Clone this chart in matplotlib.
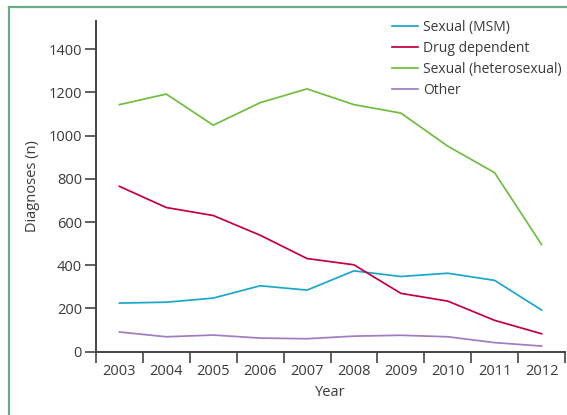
import matplotlib
matplotlib.use("Agg")
import matplotlib.pyplot as plt
from matplotlib.lines import Line2D
from matplotlib.ticker import FixedLocator, NullFormatter

years = [2003, 2004, 2005, 2006, 2007, 2008, 2009, 2010, 2011, 2012]
msm = [225, 229, 248, 305, 285, 374, 348, 363, 330, 193]
drug = [765, 667, 630, 539, 431, 402, 270, 234, 145, 83]
hetero = [1143, 1192, 1048, 1152, 1216, 1143, 1104, 951, 828, 496]
other = [91, 69, 77, 63, 60, 72, 76, 69, 42, 26]

series_names = ["Sexual (MSM)", "Drug dependent", "Sexual (heterosexual)", "Other"]
colors = ["#1ba6cc", "#c4003f", "#6fbe3e", "#a07cc4"]
yticks = [0, 200, 400, 600, 800, 1000, 1200, 1400]

plt.rcParams['font.family'] = ['Open Sans', 'DejaVu Sans']
txt = "#3a3a3a"
fs = 10.5
W, H = 567, 415
fig = plt.figure(figsize=(W/100, H/100), dpi=100)
ax = fig.add_axes([96/W, 63.3/H, (565-96)/W, (394-63.3)/H])

for vals, c, name in zip([msm, drug, hetero, other], colors, series_names):
    ax.plot(years, vals, color=c, lw=1.25, label=name)

ax.set_xlim(2002.5, 2012.5)
ax.set_ylim(0, 1530)
ax.set_yticks(yticks)
ax.xaxis.set_major_locator(FixedLocator([y - 0.5 for y in years] + [2012.5]))
ax.xaxis.set_major_formatter(NullFormatter())
ax.xaxis.set_minor_locator(FixedLocator(years))
ax.set_xticklabels([str(y) for y in years], minor=True)
ax.tick_params(axis='x', which='major', length=8, width=1.2, color="#444444", direction='out')
ax.tick_params(axis='x', which='minor', length=0, pad=9, labelsize=fs, labelcolor=txt)
ax.tick_params(axis='y', length=8, width=1.2, color="#444444", direction='out', labelsize=fs, labelcolor=txt, pad=2)
for s in ['top', 'right']:
    ax.spines[s].set_visible(False)
for s in ['left', 'bottom']:
    ax.spines[s].set_color("#444444")
    ax.spines[s].set_linewidth(1.4)

ax.set_xlabel("Year", fontsize=fs, color=txt, labelpad=4)
ax.set_ylabel("Diagnoses (n)", fontsize=fs, color=txt, labelpad=6)

leg = fig.legend(loc='upper left', bbox_to_anchor=(392/W, 1 - 20/H), frameon=False,
                 fontsize=10, handlelength=1.85, handletextpad=0.4, labelspacing=0.42,
                 borderpad=0, borderaxespad=0)
for t in leg.get_texts():
    t.set_color(txt)

# panel border (top and left)
bc = "#6aaa88"
fig.add_artist(Line2D([8.5/W, 1], [1 - 7/H, 1 - 7/H], color=bc, lw=1.6, transform=fig.transFigure))
fig.add_artist(Line2D([8.5/W, 8.5/W], [0, 1 - 7/H], color=bc, lw=1.6, transform=fig.transFigure))

fig.savefig("out.png", dpi=100)
